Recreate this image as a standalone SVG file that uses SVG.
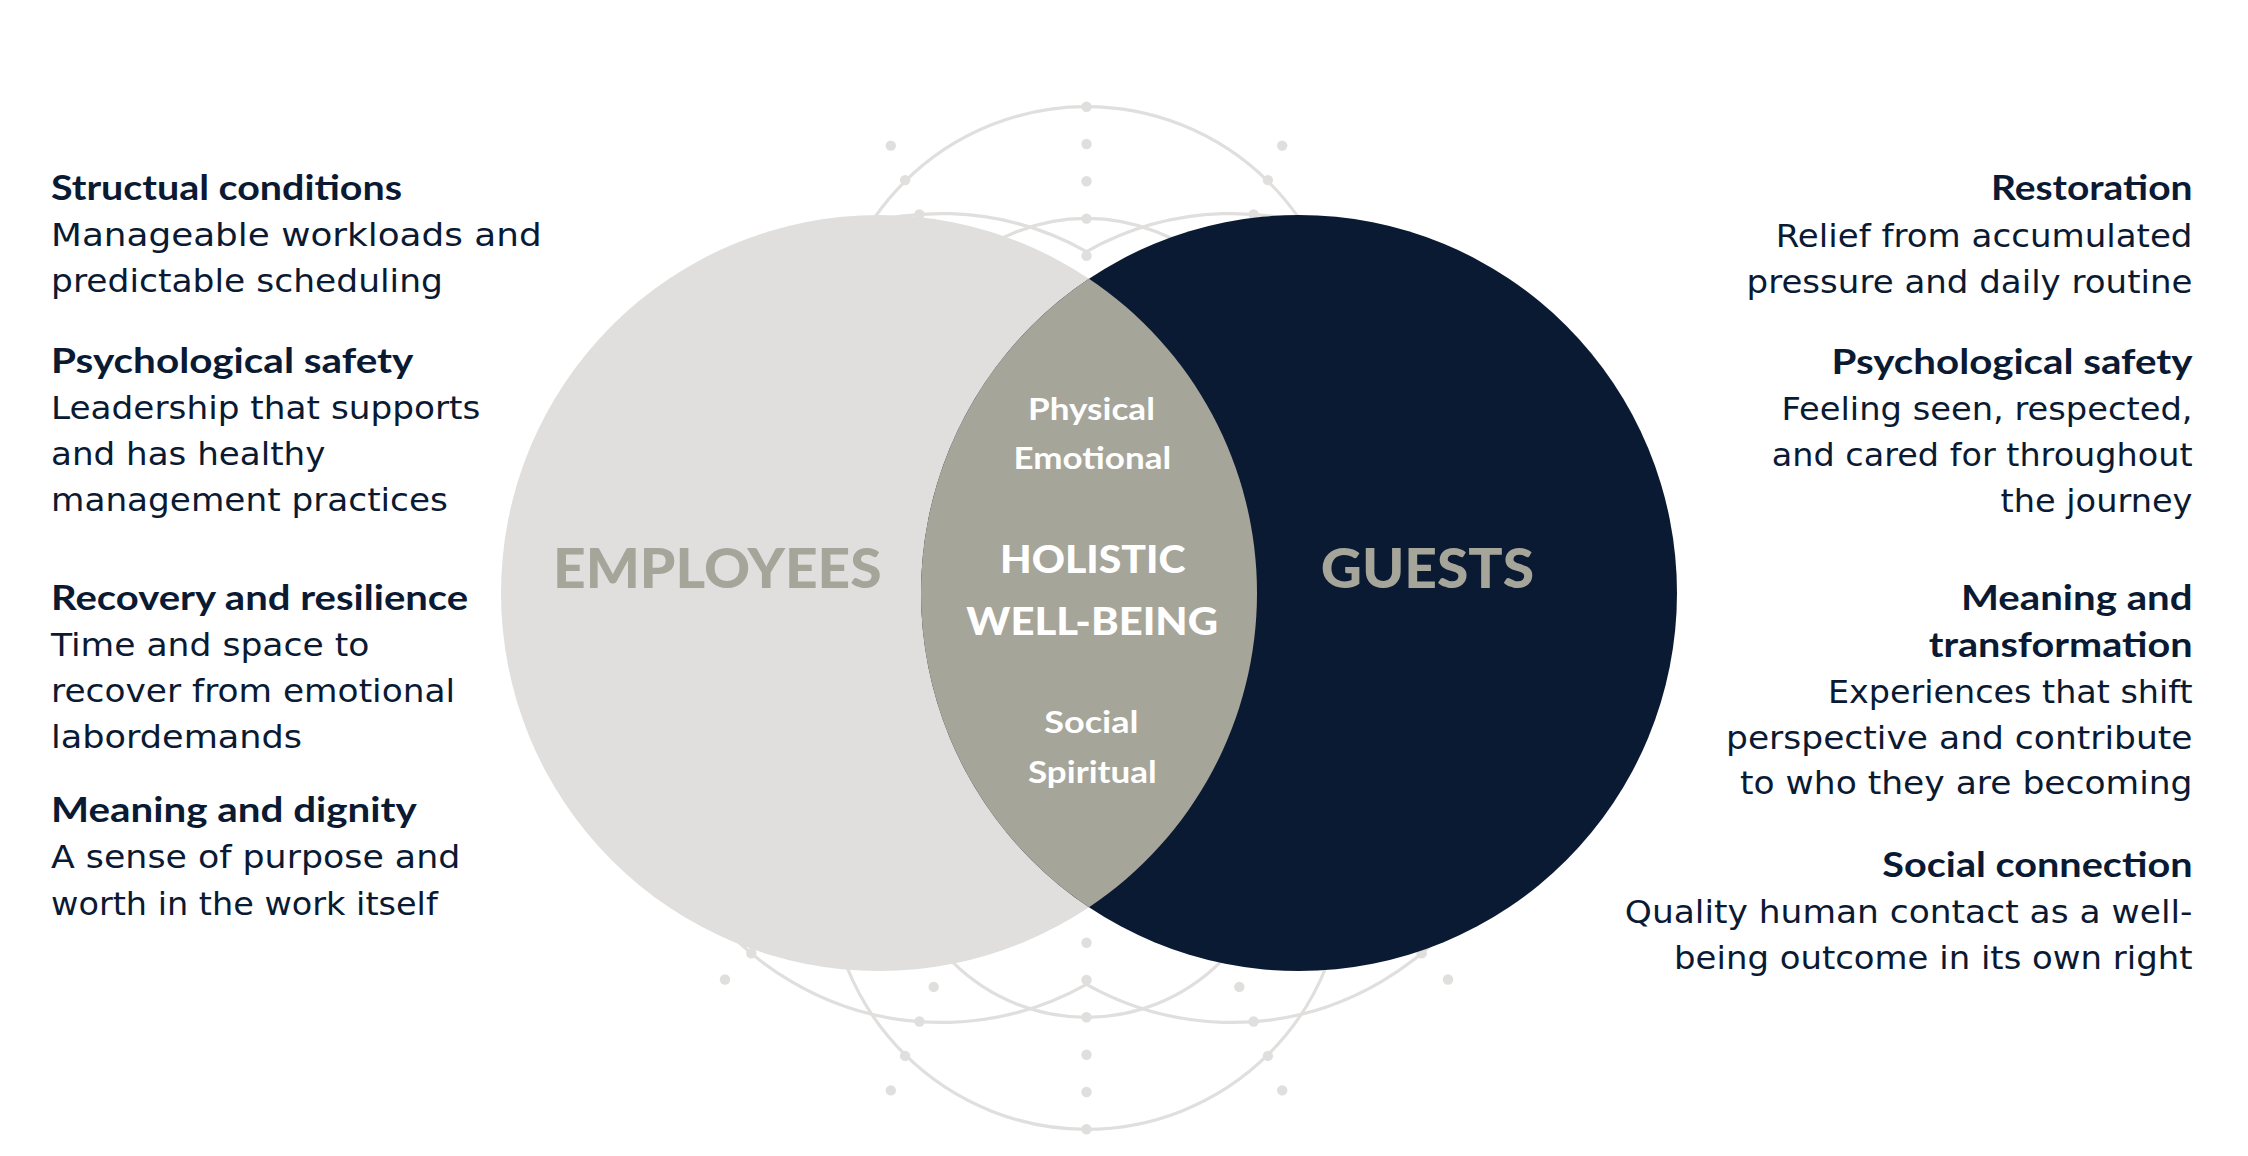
<svg xmlns="http://www.w3.org/2000/svg" width="2248" height="1156" viewBox="0 0 2248 1156">
  <defs>
    <style>
      .bg { fill: #ffffff; }
      .deco { fill: none; stroke: #E0DFDE; stroke-width: 3.2; }
      .dot { fill: #E0DFDE; }
      .emp { fill: #E0DFDE; }
      .gst { fill: #0B1A33; }
      .lens { fill: #A6A59A; }
      .big { font-family: Lato, "Liberation Sans", sans-serif; font-weight: 900; font-size: 56px; fill: #A6A59A; }
      .lensT { font-family: Lato, "Liberation Sans", sans-serif; font-weight: 700; font-size: 30px; fill: #FFFFFF; }
      .lensH { font-family: Lato, "Liberation Sans", sans-serif; font-weight: 900; font-size: 37px; fill: #FFFFFF; }
      .head { font-family: Lato, "Liberation Sans", sans-serif; font-weight: 700; font-size: 34px; fill: #0B1A33; }
      .body { font-family: "DejaVu Sans", "Liberation Sans", sans-serif; font-weight: 400; font-size: 32px; fill: #0B1A33; }
    </style>
  </defs>
  <rect class="bg" x="0" y="0" width="2248" height="1156"/>

  <g id="decoration">
    <circle class="deco" cx="1086.5" cy="364.7" r="258"/>
    <circle class="deco" cx="1086.5" cy="871.3" r="258"/>
    <circle class="deco" cx="1086.5" cy="408.3" r="190"/>
    <circle class="deco" cx="1086.5" cy="827.3" r="190"/>
    <path class="deco" d="M1086.5,251.6 A296,296 0 0,0 645.4,509.6"/>
    <path class="deco" d="M1086.5,251.6 A296,296 0 0,1 1527.6,509.6"/>
    <path class="deco" d="M1086.5,984.4 A296,296 0 0,1 645.4,726.4"/>
    <path class="deco" d="M1086.5,984.4 A296,296 0 0,0 1527.6,726.4"/>
    <g>
      <circle class="dot" cx="1086.5" cy="106.7" r="5.2"/>
      <circle class="dot" cx="1086.5" cy="144" r="5.2"/>
      <circle class="dot" cx="1086.5" cy="181.3" r="5.2"/>
      <circle class="dot" cx="1086.5" cy="218.6" r="5.2"/>
      <circle class="dot" cx="1086.5" cy="255.9" r="5.2"/>
      <circle class="dot" cx="1086.5" cy="942.7" r="5.2"/>
      <circle class="dot" cx="1086.5" cy="980" r="5.2"/>
      <circle class="dot" cx="1086.5" cy="1017.3" r="5.2"/>
      <circle class="dot" cx="1086.5" cy="1054.7" r="5.2"/>
      <circle class="dot" cx="1086.5" cy="1092" r="5.2"/>
      <circle class="dot" cx="1086.5" cy="1129.3" r="5.2"/>
      <circle class="dot" cx="890.8" cy="145.6" r="5.2"/>
      <circle class="dot" cx="905.1" cy="180.1" r="5.2"/>
      <circle class="dot" cx="919.4" cy="214.5" r="5.2"/>
      <circle class="dot" cx="1282.2" cy="145.6" r="5.2"/>
      <circle class="dot" cx="1267.9" cy="180.1" r="5.2"/>
      <circle class="dot" cx="1253.6" cy="214.5" r="5.2"/>
      <circle class="dot" cx="890.8" cy="1090.4" r="5.2"/>
      <circle class="dot" cx="905.1" cy="1055.9" r="5.2"/>
      <circle class="dot" cx="919.4" cy="1021.5" r="5.2"/>
      <circle class="dot" cx="933.7" cy="986.9" r="5.2"/>
      <circle class="dot" cx="751.3" cy="953.2" r="5.2"/>
      <circle class="dot" cx="725" cy="979.5" r="5.2"/>
      <circle class="dot" cx="1282.2" cy="1090.4" r="5.2"/>
      <circle class="dot" cx="1267.9" cy="1055.9" r="5.2"/>
      <circle class="dot" cx="1253.6" cy="1021.5" r="5.2"/>
      <circle class="dot" cx="1239.3" cy="986.9" r="5.2"/>
      <circle class="dot" cx="1421.7" cy="953.2" r="5.2"/>
      <circle class="dot" cx="1448" cy="979.5" r="5.2"/>
    </g>
  </g>

  <g id="employees">
    <circle class="emp" cx="879" cy="593" r="378"/>
    <text class="big" x="553" y="588.3" textLength="328.6" lengthAdjust="spacingAndGlyphs">EMPLOYEES</text>
  </g>

  <g id="guests">
    <circle class="gst" cx="1299" cy="593" r="378"/>
  </g>

  <g id="holistic-well-being">
    <path class="lens" d="M1089,278.7 A378,378 0 0,1 1089,907.3 A378,378 0 0,1 1089,278.7 Z"/>
    <text class="lensT" x="1028" y="420" textLength="126.9" lengthAdjust="spacingAndGlyphs">Physical</text>
    <text class="lensT" x="1013.6" y="469.3" textLength="157.5" lengthAdjust="spacingAndGlyphs">Emotional</text>
    <text class="lensH" x="1000" y="573.3" textLength="185.4" lengthAdjust="spacingAndGlyphs">HOLISTIC</text>
    <text class="lensH" x="966.2" y="635" textLength="251.8" lengthAdjust="spacingAndGlyphs">WELL-BEING</text>
    <text class="lensT" x="1044.2" y="733.3" textLength="94.4" lengthAdjust="spacingAndGlyphs">Social</text>
    <text class="lensT" x="1028" y="783" textLength="128.8" lengthAdjust="spacingAndGlyphs">Spiritual</text>
  </g>

  <g id="guests-label">
    <text class="big" x="1320.7" y="588.3" textLength="213.4" lengthAdjust="spacingAndGlyphs">GUESTS</text>
  </g>

  <g id="employee-factors">
    <text class="head" x="51" y="200" textLength="351" lengthAdjust="spacingAndGlyphs">Structual conditions</text>
    <text class="body" x="51" y="246" textLength="490.6" lengthAdjust="spacingAndGlyphs">Manageable workloads and</text>
    <text class="body" x="51" y="292" textLength="391.9" lengthAdjust="spacingAndGlyphs">predictable scheduling</text>

    <text class="head" x="51" y="372.5" textLength="362.4" lengthAdjust="spacingAndGlyphs">Psychological safety</text>
    <text class="body" x="51" y="418.5" textLength="429.4" lengthAdjust="spacingAndGlyphs">Leadership that supports</text>
    <text class="body" x="51" y="465" textLength="274.4" lengthAdjust="spacingAndGlyphs">and has healthy</text>
    <text class="body" x="51" y="511" textLength="396.9" lengthAdjust="spacingAndGlyphs">management practices</text>

    <text class="head" x="51" y="609.5" textLength="417.2" lengthAdjust="spacingAndGlyphs">Recovery and resilience</text>
    <text class="body" x="51" y="656" textLength="318.3" lengthAdjust="spacingAndGlyphs">Time and space to</text>
    <text class="body" x="51" y="702" textLength="404.1" lengthAdjust="spacingAndGlyphs">recover from emotional</text>
    <text class="body" x="51" y="748" textLength="251.1" lengthAdjust="spacingAndGlyphs">labordemands</text>

    <text class="head" x="51" y="822" textLength="365.8" lengthAdjust="spacingAndGlyphs">Meaning and dignity</text>
    <text class="body" x="51" y="868" textLength="409.3" lengthAdjust="spacingAndGlyphs">A sense of purpose and</text>
    <text class="body" x="51" y="915" textLength="386.7" lengthAdjust="spacingAndGlyphs">worth in the work itself</text>
  </g>

  <g id="guest-factors">
    <text class="head" x="1990.9" y="200" textLength="201.6" lengthAdjust="spacingAndGlyphs">Restoration</text>
    <text class="body" x="1775.7" y="246.7" textLength="416.8" lengthAdjust="spacingAndGlyphs">Relief from accumulated</text>
    <text class="body" x="1746.6" y="292.7" textLength="445.9" lengthAdjust="spacingAndGlyphs">pressure and daily routine</text>

    <text class="head" x="1831.5" y="374" textLength="361" lengthAdjust="spacingAndGlyphs">Psychological safety</text>
    <text class="body" x="1781.5" y="420" textLength="411" lengthAdjust="spacingAndGlyphs">Feeling seen, respected,</text>
    <text class="body" x="1771.8" y="466" textLength="420.7" lengthAdjust="spacingAndGlyphs">and cared for throughout</text>
    <text class="body" x="2000.5" y="512" textLength="192" lengthAdjust="spacingAndGlyphs">the journey</text>

    <text class="head" x="1961" y="610" textLength="231.5" lengthAdjust="spacingAndGlyphs">Meaning and</text>
    <text class="head" x="1928.8" y="657" textLength="263.7" lengthAdjust="spacingAndGlyphs">transformation</text>
    <text class="body" x="1828" y="703" textLength="364.5" lengthAdjust="spacingAndGlyphs">Experiences that shift</text>
    <text class="body" x="1726" y="748.5" textLength="466.5" lengthAdjust="spacingAndGlyphs">perspective and contribute</text>
    <text class="body" x="1740" y="793.5" textLength="452.5" lengthAdjust="spacingAndGlyphs">to who they are becoming</text>

    <text class="head" x="1882.3" y="877" textLength="310.2" lengthAdjust="spacingAndGlyphs">Social connection</text>
    <text class="body" x="1624.8" y="923" textLength="567.7" lengthAdjust="spacingAndGlyphs">Quality human contact as a well-</text>
    <text class="body" x="1674.1" y="969" textLength="518.4" lengthAdjust="spacingAndGlyphs">being outcome in its own right</text>
  </g>
</svg>
